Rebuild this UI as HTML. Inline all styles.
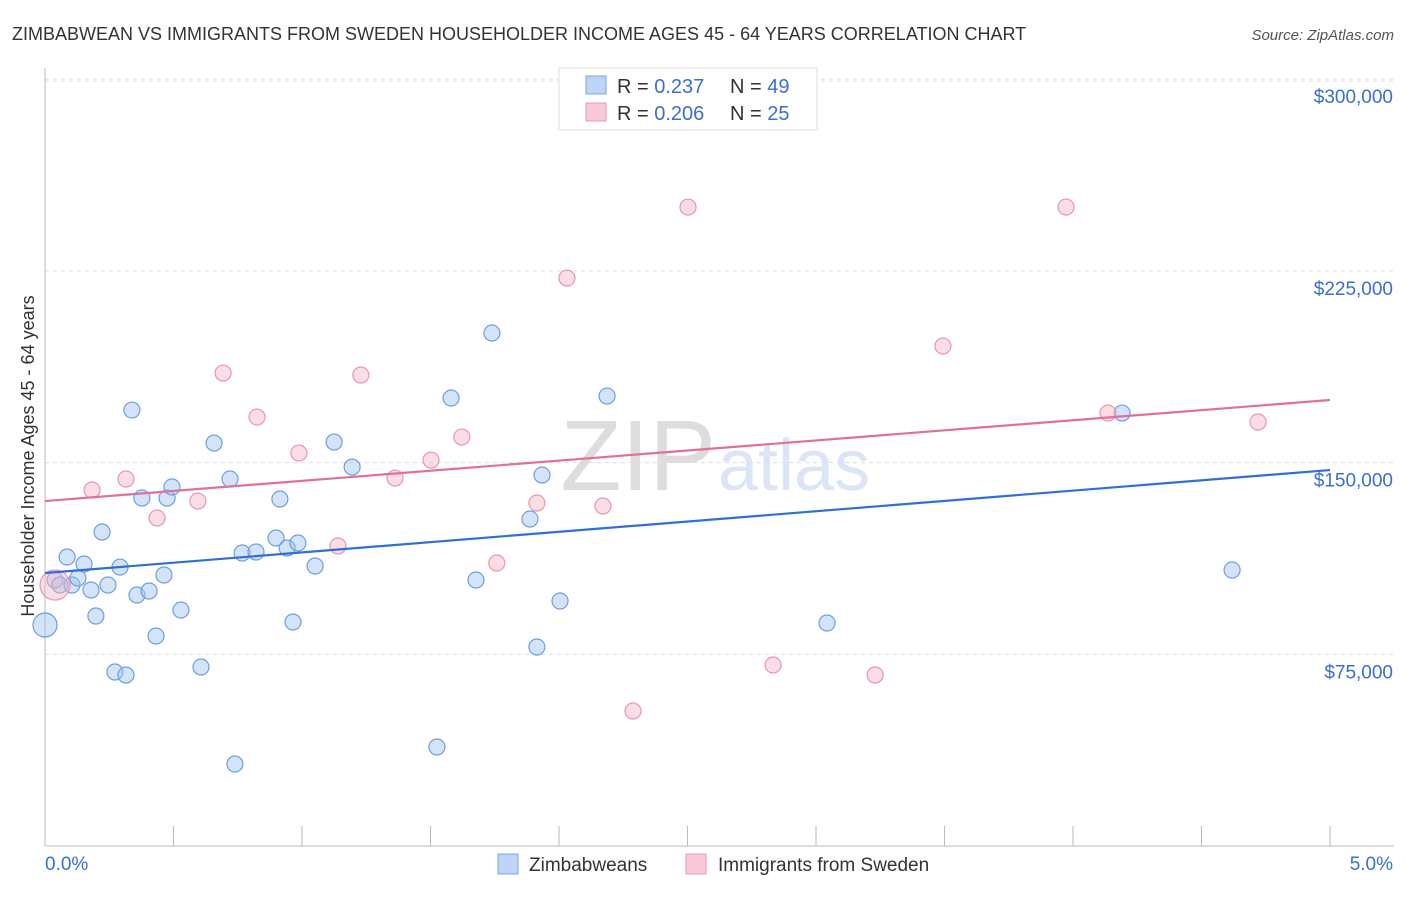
<!DOCTYPE html>
<html><head><meta charset="utf-8"><style>
body{margin:0;background:#fff;font-family:"Liberation Sans",sans-serif}
svg text{font-family:"Liberation Sans",sans-serif}
</style></head><body>
<svg width="1406" height="892" viewBox="0 0 1406 892">
<text x="12" y="40" font-size="18" fill="#333">ZIMBABWEAN VS IMMIGRANTS FROM SWEDEN HOUSEHOLDER INCOME AGES 45 - 64 YEARS CORRELATION CHART</text>
<text x="1394" y="40" font-size="15" fill="#555" font-style="italic" text-anchor="end">Source: ZipAtlas.com</text>
<g id="grid"></g>
<g id="axes"></g>
<text x="716" y="490" font-size="100" fill="#ddd" text-anchor="end" font-family="Liberation Serif">ZIP</text>
<text x="718" y="490" font-size="72" fill="#dbe5f5">atlas</text>
<g id="marks"></g>
<text transform="translate(34,456) rotate(-90)" font-size="18" fill="#333" text-anchor="middle">Householder Income Ages 45 - 64 years</text>
<g>
<rect x="559" y="68" width="258" height="62" fill="#fff" stroke="#ddd"/>
<rect x="586" y="76" width="20" height="18" fill="#bcd4f5" stroke="#7ea6e0"/>
<text x="617" y="93" font-size="20" fill="#333">R = <tspan fill="#3a6fd0">0.237</tspan></text>
<text x="730" y="93" font-size="20" fill="#333">N = <tspan fill="#3a6fd0">49</tspan></text>
<rect x="586" y="103" width="20" height="18" fill="#f9c9d7" stroke="#e89ab2"/>
<text x="617" y="120" font-size="20" fill="#333">R = <tspan fill="#3a6fd0">0.206</tspan></text>
<text x="730" y="120" font-size="20" fill="#333">N = <tspan fill="#3a6fd0">25</tspan></text>
</g>
<g>
<rect x="498" y="854" width="20" height="20" fill="#bcd4f5" stroke="#7ea6e0"/>
<text x="529" y="871" font-size="19" fill="#333">Zimbabweans</text>
<rect x="686" y="854" width="20" height="20" fill="#f9c9d7" stroke="#e89ab2"/>
<text x="718" y="871" font-size="19" fill="#333">Immigrants from Sweden</text>
</g>
</svg>
<script>
const yTicks=[75000,150000,225000,300000];
const yTickLabels=["$75,000","$150,000","$225,000","$300,000"];
const blueX=[0.00,0.039,0.058,0.086,0.105,0.128,0.152,0.179,0.198,0.222,0.245,0.272,0.292,0.315,0.338,0.358,0.377,0.405,0.432,0.463,0.475,0.494,0.529,0.607,0.658,0.720,0.739,0.767,0.821,0.899,0.914,0.942,0.965,0.984,1.051,1.125,1.195,1.525,1.580,1.677,1.739,1.887,1.914,1.934,2.004,2.187,3.043,4.191,4.619];
const blueY=[86460,104060,102100,113060,102100,104840,110320,100150,89980,122840,102100,68070,109140,66900,170560,98190,136140,99760,82150,106020,136140,140440,92320,70020,157650,143570,32080,114620,115010,120490,135750,116580,87630,118530,109540,158040,148260,38730,175260,104060,200690,127920,77850,145140,95840,176040,87240,169390,107970];
const pinkX=[0.039,0.183,0.315,0.436,0.595,0.693,0.825,0.988,1.140,1.229,1.362,1.502,1.622,1.758,1.914,2.031,2.171,2.288,2.502,2.833,3.230,3.494,3.973,4.136,4.720];
const pinkY=[102100,139270,143570,128310,134960,185040,167820,153740,117360,184260,143960,151000,160000,110710,134180,222200,133010,52810,249980,70810,66900,195600,249980,169390,165870];
const blueTrend=[106800,147090];
const pinkTrend=[134960,174480];
const X=p=>45+p/5*1285;
const Y=v=>846-v/75000*191.7;
const NS="http://www.w3.org/2000/svg";
function mk(t,a,parent){const e=document.createElementNS(NS,t);for(const k in a)e.setAttribute(k,a[k]);parent.appendChild(e);return e;}
const grid=document.getElementById('grid'),axes=document.getElementById('axes'),marks=document.getElementById('marks');
yTicks.forEach((v,i)=>{
 const l=mk('line',{x1:45,x2:1394,y1:Y(v),y2:Y(v),stroke:'#ddd','stroke-dasharray':'4,4'},grid);
 
 
 const t=mk('text',{x:1393,y:Y(v)+24,'font-size':19,fill:'#3a6fd0','text-anchor':'end'},axes);
 t.textContent=yTickLabels[i];
 
 
});
const topLine=mk('line',{x1:45,x2:1394,y1:Y(300000)+2,y2:Y(300000)+2,stroke:'#ddd','stroke-dasharray':'4,4'},grid);


mk('line',{x1:45,x2:45,y1:68,y2:846,stroke:'#bbb'},axes);
mk('line',{x1:45,x2:1394,y1:846,y2:846,stroke:'#bbb'},axes);
for(let i=0;i<=10;i++){const tk=mk('line',{x1:X(i*0.5),x2:X(i*0.5),y1:826,y2:846,stroke:'#bbb'},axes);
 
 }
const x0=mk('text',{x:45,y:870,'font-size':19,fill:'#3a6fd0'},axes);x0.textContent='0.0%';


const x1=mk('text',{x:1393,y:870,'font-size':19,fill:'#3a6fd0','text-anchor':'end'},axes);x1.textContent='5.0%';


blueX.forEach((x,i)=>{const c=mk('circle',{cx:X(x),cy:Y(blueY[i]),r:i==0?12:8,fill:'rgba(160,195,240,0.45)',stroke:'#6f9ee0','stroke-width':1.2},marks);
 
 });
pinkX.forEach((x,i)=>{const c=mk('circle',{cx:X(x),cy:Y(pinkY[i]),r:i==0?15:8,fill:'rgba(247,180,200,0.45)',stroke:'#e896b0','stroke-width':1.2},marks);
 
 });
const bl=mk('line',{x1:X(0),x2:X(5),y1:Y(blueTrend[0]),y2:Y(blueTrend[1]),stroke:'#2f6fd6','stroke-width':2.2},marks);


const pl=mk('line',{x1:X(0),x2:X(5),y1:Y(pinkTrend[0]),y2:Y(pinkTrend[1]),stroke:'#e0709a','stroke-width':2.2},marks);


</script>
</body></html>
